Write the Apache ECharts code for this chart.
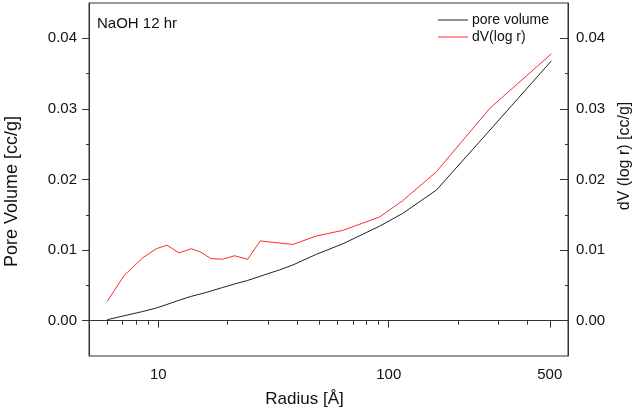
<!DOCTYPE html>
<html>
<head>
<meta charset="utf-8">
<script src="https://cdn.jsdelivr.net/npm/echarts@6/dist/echarts.min.js"></script>
<style>
  html, body { margin: 0; padding: 0; background: #fff; }
  #chart { width: 634px; height: 409px; }
</style>
</head>
<body>
<div id="chart"></div>
<script>
// radius [Å]
const radius = [6.0, 7.1, 8.55, 9.8, 10.9, 12.3, 13.9, 15.3, 16.9, 19.0, 21.4, 24.4, 27.7, 33.6, 38.4, 48.5, 63.3, 91.4, 115, 161, 275, 508];
// pore volume [cc/g]
const poreVolume = [0.00014, 0.0007, 0.0013, 0.0018, 0.0023, 0.0029, 0.00345, 0.0038, 0.0042, 0.0047, 0.0052, 0.0057, 0.0063, 0.0072, 0.0079, 0.0094, 0.0109, 0.0134, 0.0152, 0.0185, 0.027, 0.0368];
// dV(log r) [cc/g]
const dVlogR = [0.00274, 0.0064, 0.0089, 0.0102, 0.0107, 0.0096, 0.0102, 0.0097, 0.0088, 0.0087, 0.0092, 0.0087, 0.0113, 0.0110, 0.0108, 0.0120, 0.0128, 0.0147, 0.0170, 0.0211, 0.0301, 0.0378];

const xMajor = [10, 100, 500];
const xMinor = [5, 6, 7, 8, 9, 20, 30, 40, 50, 60, 70, 80, 90, 200, 300, 400, 600];
const yMajor = [0, 0.01, 0.02, 0.03, 0.04];
const yMinor = [0.005, 0.015, 0.025, 0.035];

const font = 'Liberation Sans, Arial, sans-serif';
const axisColor = '#333';
const textColor = '#111';

function pairs(xs, ys) {
    let out = [];
    for (let i = 0; i < xs.length; i++) {
        out.push([xs[i], ys[i]]);
    }
    return out;
}

function yAxisMajor(pos) {
    let left = pos === 'left';
    return {
        type: 'value', position: pos, min: -0.005, max: 0.045,
        splitLine: {show: false},
        axisLine: {show: true, lineStyle: {color: axisColor, width: 1}},
        axisTick: {show: true, customValues: yMajor, length: left ? 7 : 8, inside: !left, lineStyle: {color: axisColor}},
        axisLabel: {
            customValues: yMajor, margin: left ? 12 : 8,
            fontFamily: font, fontSize: 15, color: textColor,
            formatter: v => v.toFixed(2)
        }
    };
}

function yAxisMinor(pos) {
    return {
        type: 'value', position: pos, min: -0.005, max: 0.045,
        splitLine: {show: false},
        axisLine: {show: false},
        axisTick: {show: true, customValues: yMinor, length: 3, inside: pos === 'right', lineStyle: {color: axisColor}},
        axisLabel: {show: false}
    };
}

function label(text, x, y, size, rotate) {
    return {
        type: 'text', x: x, y: y, rotation: rotate ? Math.PI / 2 : 0,
        style: {text: text, fontFamily: font, fontSize: size, fill: textColor, align: 'center', verticalAlign: 'middle'}
    };
}

let myChart = echarts.init(document.getElementById('chart'));
myChart.setOption({
    animation: false,
    grid: {
        left: 89, right: 66, top: 3, bottom: 53,
        outerBoundsMode: 'none', containLabel: false,
        show: true, borderColor: axisColor, borderWidth: 1
    },
    graphic: [
        {
            type: 'text', x: 97, y: 24,
            style: {text: 'NaOH 12 hr', fontFamily: font, fontSize: 15, fill: textColor, verticalAlign: 'middle'}
        },
        label('Pore Volume [cc/g]', 12.5, 191.5, 18, true),
        label('dV (log r) [cc/g]', 624.5, 156, 16, true),
        label('Radius [Å]', 304.5, 399, 17, false)
    ],
    legend: {
        orient: 'vertical', left: 438, top: 13, itemGap: 3, padding: 0,
        itemWidth: 30, itemHeight: 1, icon: 'rect',
        textStyle: {fontFamily: font, fontSize: 14, lineHeight: 14, color: textColor, padding: [0, 0, 0, -1]},
        data: ['pore volume', 'dV(log r)']
    },
    xAxis: [
        {
            type: 'log', position: 'bottom', min: 5, max: 600,
            splitLine: {show: false},
            axisLine: {show: true, lineStyle: {color: axisColor}},
            axisTick: {show: true, customValues: xMajor, length: 7, lineStyle: {color: axisColor}},
            axisLabel: {customValues: xMajor, margin: 11, fontFamily: font, fontSize: 15, color: textColor}
        },
        {
            type: 'log', position: 'bottom', min: 5, max: 600,
            splitLine: {show: false},
            axisLine: {show: false},
            axisTick: {show: true, customValues: xMinor, length: 4, lineStyle: {color: axisColor}},
            axisLabel: {show: false}
        }
    ],
    yAxis: [
        yAxisMajor('left'),
        yAxisMinor('left'),
        yAxisMajor('right'),
        yAxisMinor('right')
    ],
    series: [
        {
            name: 'pore volume', type: 'line', xAxisIndex: 0, yAxisIndex: 0,
            showSymbol: false, symbol: 'none',
            itemStyle: {color: '#222'},
            lineStyle: {color: '#222', width: 1},
            data: pairs(radius, poreVolume)
        },
        {
            name: 'dV(log r)', type: 'line', xAxisIndex: 0, yAxisIndex: 2,
            showSymbol: false, symbol: 'none',
            itemStyle: {color: '#ff2a2a'},
            lineStyle: {color: '#ff2a2a', width: 1},
            data: pairs(radius, dVlogR)
        }
    ]
});
</script>
</body>
</html>
